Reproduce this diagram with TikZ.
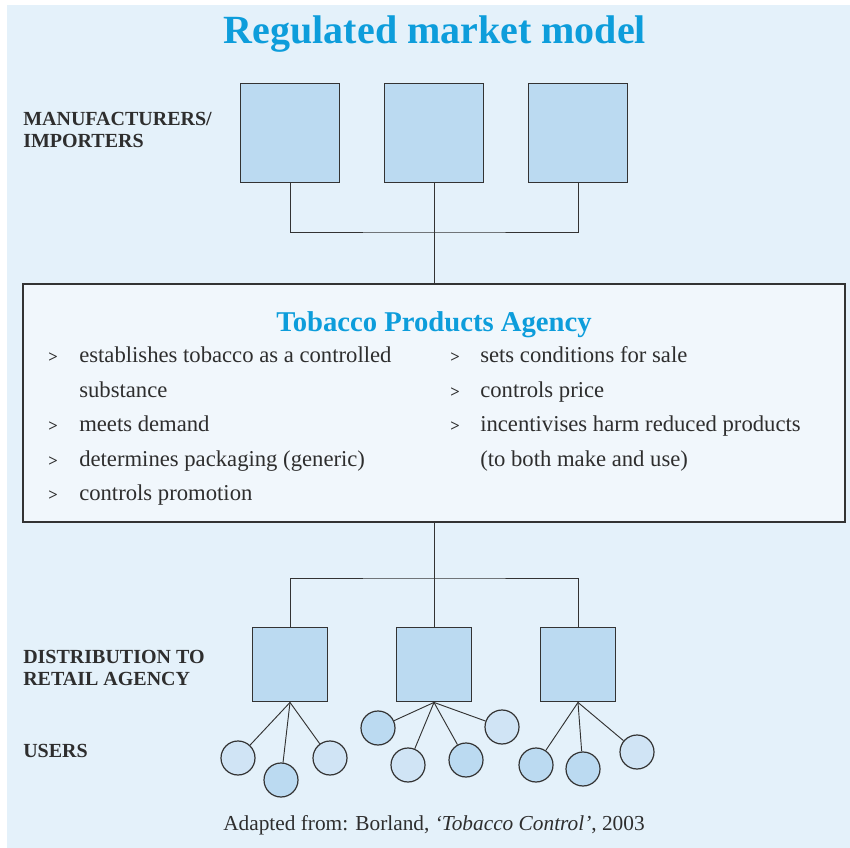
\documentclass[tikz,border=0pt]{standalone}
\usepackage{fontspec}
\setmainfont{Liberation Serif}
\definecolor{bgblue}{HTML}{E4F1FA}
\definecolor{boxblue}{HTML}{BBDAF1}
\definecolor{uslight}{HTML}{D0E4F5}
\definecolor{agencyfill}{HTML}{F1F7FC}
\definecolor{boxline}{HTML}{333333}
\definecolor{titleblue}{HTML}{0D9DDB}
\definecolor{txtgray}{HTML}{2E2E2E}
\begin{document}
\begin{tikzpicture}[x=0.75pt,y=-0.75pt,
        sq/.style={draw=boxline,line width=0.9pt,fill=boxblue,minimum size=#1,inner sep=0pt},
        user/.style={circle,draw=boxline,line width=0.9pt,minimum size=25.5pt,inner sep=0pt},
        link/.style={draw=boxline,line width=0.7pt},
        lbl/.style={anchor=base west,inner sep=0pt,align=left,text=txtgray,
            font=\fontsize{15}{16.5}\selectfont\bfseries},
        item/.style={anchor=base west,inner sep=0pt,text=txtgray,font=\fontsize{17}{20}\selectfont},
        tick/.style={anchor=base west,inner sep=0pt,text=txtgray,font=\fontsize{12.5}{14}\selectfont\bfseries}]
        \useasboundingbox (0,0) rectangle (850,848);
        \fill[bgblue] (7,5) rectangle (850,848);
        \node[anchor=base,text=titleblue,font=\fontsize{30}{32}\selectfont\bfseries] (title) at (435,44) {Regulated market model};
        % manufacturers
        \foreach \m/\x in {1/290,2/434,3/578}{
            \node[sq=74.5pt] (mfr\m) at (\x,133) {};
            };
        \node[lbl] (mlabel) at (23,148) {MANUFACTURERS/\\IMPORTERS};
        \coordinate (jtop) at (434,232);
        \draw[link] (mfr1.south) |- (jtop) -| (mfr3.south);
        % agency
        \node[draw=boxline,line width=0.9pt,fill=agencyfill,minimum width=616.5pt,minimum height=178.5pt,inner sep=0pt] (agency) at (434,403) {};
        \draw[link] (mfr2.south) -- (agency.north);
        \node[anchor=base,text=titleblue,font=\fontsize{21.5}{24}\selectfont\bfseries] (atitle) at (434,332) {Tobacco Products Agency};
        \foreach \i/\y/\t in {1/363/establishes tobacco as a controlled,2/398/substance,3/432/meets demand,
                4/467/determines packaging (generic),5/500/controls promotion}{
            \node[item] (left\i) at (79,\y) {\t};
            };
        \foreach \i/\y in {1/363,3/432,4/467,5/500}{
            \node[tick] (ltick\i) at (48,\y) {>};
            };
        \foreach \i/\y/\t in {1/363/sets conditions for sale,2/398/controls price,3/432/incentivises harm reduced products,
                4/467/(to both make and use)}{
            \node[item] (right\i) at (480,\y) {\t};
            };
        \foreach \i/\y in {1/363,2/398,3/432}{
            \node[tick] (rtick\i) at (450,\y) {>};
            };
        % distribution
        \foreach \d/\x in {1/290,2/434,3/578}{
            \node[sq=56pt] (dist\d) at (\x,664.5) {};
            };
        \coordinate (jbot) at (434,578);
        \draw[link] (agency.south) -- (jbot);
        \draw[link] (dist1.north) |- (jbot) -| (dist3.north);
        \draw[link] (jbot) -- (dist2.north);
        \node[lbl] (dlabel) at (23,685) {DISTRIBUTION TO\\RETAIL AGENCY};
        % users
        \foreach \u/\g/\x/\y/\c in {1/1/238/758/uslight,2/1/281/780/boxblue,3/1/330/758/uslight,
                4/2/378/728/boxblue,5/2/408/765/uslight,6/2/466/760/boxblue,7/2/502/727/uslight,
                8/3/536/765/boxblue,9/3/583/769/boxblue,10/3/637/752/uslight}{
            \node[user,fill=\c] (user\u) at (\x,\y) {};
            \draw[link] (dist\g.south) -- (user\u);
            };
        \node[lbl] (ulabel) at (23,757) {USERS};
        \node[anchor=base,text=txtgray,font=\fontsize{16}{18}\selectfont] (source) at (434,830)
            {Adapted from: Borland, \textit{‘Tobacco Control’}, 2003};
\end{tikzpicture}
\end{document}
